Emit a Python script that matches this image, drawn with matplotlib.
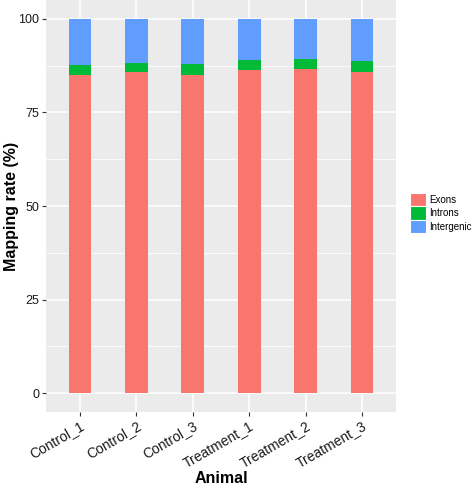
import matplotlib
matplotlib.use("Agg")
import matplotlib.pyplot as plt
import numpy as np
from matplotlib.patches import Patch

animals = ["Control_1", "Control_2", "Control_3", "Treatment_1", "Treatment_2", "Treatment_3"]
exons = [85.0, 85.8, 85.0, 86.2, 86.6, 85.8]
introns = [2.6, 2.5, 2.8, 2.8, 2.7, 2.8]
intergenic = [100 - e - i for e, i in zip(exons, introns)]
series_names = ["Exons", "Introns", "Intergenic"]
colors = ["#F8766D", "#00BA38", "#619CFF"]
yticks = [0, 25, 50, 75, 100]

plt.rcParams['font.family'] = ['Liberation Sans', 'DejaVu Sans']

fig = plt.figure(figsize=(4.72, 4.86), dpi=100)
ax = fig.add_axes([46/472, 1 - 412/486, 350/472, 412/486])
ax.set_facecolor("#EBEBEB")

x = np.arange(1, len(animals) + 1)
bottom = np.zeros(len(animals))
for vals, c in zip([exons, introns, intergenic], colors):
    ax.bar(x, vals, width=0.4, bottom=bottom, color=c, zorder=3)
    bottom += np.array(vals)

ax.set_xlim(0.4, 6.6)
ax.set_ylim(-5, 105)
ax.set_xticks(x)
ax.set_xticklabels(animals, rotation=30, ha="right", rotation_mode="anchor", fontsize=10, color="#1a1a1a")
ax.set_yticks(yticks)
ax.set_yticklabels([str(v) for v in yticks], fontsize=9, color="#1a1a1a")
ax.set_yticks([12.5, 37.5, 62.5, 87.5], minor=True)
ax.grid(True, which="major", color="white", linewidth=1.1, zorder=0)
ax.grid(True, which="minor", axis="y", color="white", linewidth=0.55, zorder=0)
ax.set_axisbelow(True)
ax.tick_params(axis="both", which="major", length=3, color="#333333", width=0.8, pad=2)
ax.tick_params(axis="y", which="minor", length=0)
for s in ax.spines.values():
    s.set_visible(False)

ax.set_xlabel("Animal", fontsize=11.5, fontweight="bold")
ax.set_ylabel("Mapping rate (%)", fontsize=11.5, fontweight="bold")
ax.xaxis.set_label_coords(0.5, -0.143)
ax.yaxis.set_label_coords(-0.077, 0.5)

handles = [Patch(facecolor=c, edgecolor="white", linewidth=0.8) for c in colors]
leg = fig.legend(handles, series_names, loc="center left", bbox_to_anchor=(410/472, 1 - 213/486),
                 frameon=False, fontsize=7, handlelength=1.65, handleheight=1.75,
                 handletextpad=0.3, labelspacing=0.0, borderaxespad=0, borderpad=0)

fig.savefig("out.png", dpi=100)
